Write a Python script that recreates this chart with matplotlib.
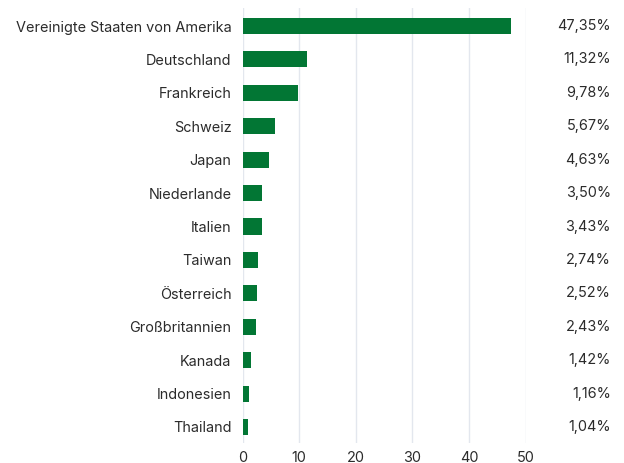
import matplotlib
matplotlib.use("Agg")
import matplotlib.pyplot as plt
import matplotlib.transforms as mtransforms

countries = ["Vereinigte Staaten von Amerika", "Deutschland", "Frankreich", "Schweiz",
             "Japan", "Niederlande", "Italien", "Taiwan", "Österreich",
             "Großbritannien", "Kanada", "Indonesien", "Thailand"]
shares = [47.35, 11.32, 9.78, 5.67, 4.63, 3.50, 3.43, 2.74, 2.52, 2.43, 1.42, 1.16, 1.04]
xticks = [0, 10, 20, 30, 40, 50]

plt.rcParams['font.family'] = ['Inter', 'DejaVu Sans']
TXT = '#2b2b2b'
GREEN = '#027634'
FS = 10.4

W, H = 624, 463
fig = plt.figure(figsize=(W / 100, H / 100), dpi=100)
ax = fig.add_axes([242.5 / W, 1 - 443 / H, (525.5 - 242.5) / W, (443 - 8) / H])

y = list(range(len(countries)))
ax.barh(y, shares, height=0.48, color=GREEN, zorder=2)
ax.set_ylim(12.48, -0.54)
ax.set_xlim(0, 50)
ax.set_xticks(xticks)
ax.set_yticks(y)
ax.set_yticklabels(countries)
ax.tick_params(axis='both', length=0, colors=TXT, labelsize=FS)
ax.tick_params(axis='y', pad=8)
ax.tick_params(axis='x', pad=6)
ax.grid(axis='x', color='#e3e7ee', linewidth=1, zorder=0)
for s in ax.spines.values():
    s.set_visible(False)

trans = mtransforms.blended_transform_factory(fig.transFigure, ax.transData)
for yi, v in zip(y, shares):
    ax.text(611 / W, yi, f"{v:.2f}%".replace('.', ','), transform=trans,
            ha='right', va='center', fontsize=FS, color=TXT)

fig.savefig("out.png", dpi=100)
